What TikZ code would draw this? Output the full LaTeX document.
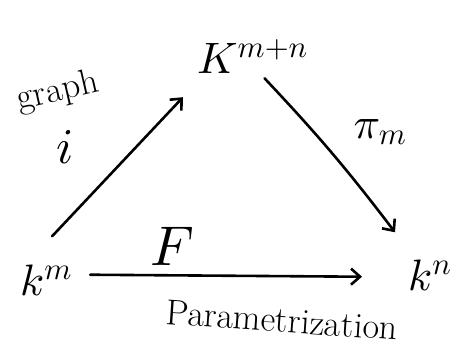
\documentclass[tikz,border=0pt]{standalone}
\usetikzlibrary{arrows.meta,calc}
\DeclareFontShape{OML}{cmm}{m}{it}{<->cmmi10}{}
\DeclareFontShape{OT1}{cmr}{m}{n}{<->cmr10}{}
\DeclareFontShape{OMS}{cmsy}{m}{n}{<->cmsy10}{}
\tikzset{
  obj/.style={inner sep=0pt, anchor=base west, font=\fontsize{44}{50}\selectfont},
  lbl/.style={inner sep=0pt, font=\fontsize{36}{40}\selectfont},
  arr/.style={line width=2.6pt, line cap=round, -{Straight Barb[length=9pt,width=16pt,line width=2.6pt]}}
}
\begin{document}
\begin{tikzpicture}[x=1pt,y=-1pt]
\useasboundingbox[fill=white] (0,0) rectangle (452,354);
\node[obj] (top) at (197,73) {$K^{m+n}$};
\node[obj] (km) at (20,295) {$k^{m}$};
\node[obj] (kn) at (408,290) {$k^{n}$};
\draw[arr] ([xshift=6pt,yshift=28pt]km.north) -- ([xshift=-14pt,yshift=-24pt]top.south west);
\draw[arr] ([xshift=12pt,yshift=-5pt]top.south) to[bend left=3] ([xshift=-13pt,yshift=27pt]kn.north west);
\draw[arr] ([xshift=18pt,yshift=5pt]km.east) -- ([xshift=-46pt,yshift=-2pt]kn.west);
\node[lbl, rotate=13] (lgraph) at (58,92) {graph};
\node[lbl, font=\fontsize{50}{56}\selectfont] (li) at (65,147) {$i$};
\node[lbl, font=\fontsize{44}{50}\selectfont] (lpi) at (380,132) {$\pi_m$};
\node[inner sep=0pt, font=\fontsize{56}{60}\selectfont] (lF) at (172,246) {$F$};
\node[lbl, rotate=-4] (lpar) at (282,320) {Parametrization};
\end{tikzpicture}
\end{document}
